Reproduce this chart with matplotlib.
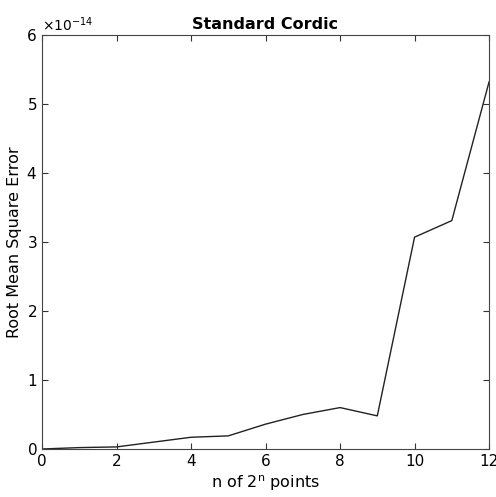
import numpy as np
import matplotlib
matplotlib.use('Agg')
from matplotlib import pyplot as plt
from matplotlib.ticker import ScalarFormatter

# rms error of the standard cordic vs n (2^n points)
n = [0, 1, 2, 3, 4, 5, 6, 7, 8, 9, 10, 11, 12]
rmse = [0.0, 0.02, 0.03, 0.10, 0.17, 0.19, 0.36, 0.50, 0.60, 0.48, 3.07, 3.31, 5.32]
rmse = np.array(rmse) * 1e-14

fig = plt.figure(figsize=(4.96, 4.97), dpi=100)
ax = fig.add_axes([0.0847, 0.0966, 0.9013, 0.833])
ax.plot(n, rmse, color='#222222', linewidth=1.0)
ax.set_xlim(0, 12)
ax.set_ylim(0, 6e-14)
ax.set_xticks([0, 2, 4, 6, 8, 10, 12])
ax.set_yticks(np.arange(0, 7) * 1e-14)
fmt = ScalarFormatter(useMathText=True)
ax.yaxis.set_major_formatter(fmt)
ax.tick_params(direction='in', top=True, right=True, labelsize=11, length=4, color='#333333')
for s in ax.spines.values():
    s.set_color('#444444')
ax.yaxis.get_offset_text().set_fontsize(10)
ax.set_title('Standard Cordic', fontsize=11.5, fontweight='bold', pad=4)
ax.set_xlabel('n of 2$^\\mathregular{n}$ points', fontsize=11.5, labelpad=3)
ax.set_ylabel('Root Mean Square Error', fontsize=11.5, labelpad=3)

fig.savefig('out.png', dpi=100)
